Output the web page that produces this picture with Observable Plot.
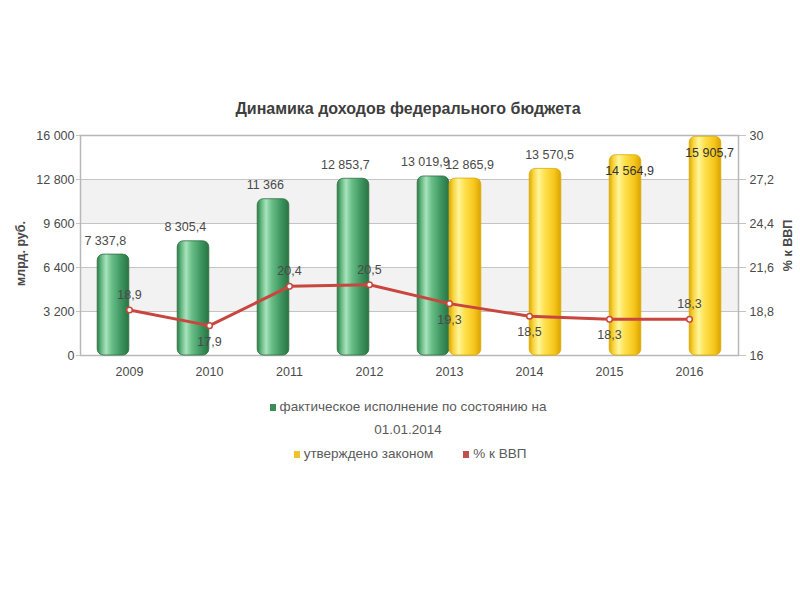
<!DOCTYPE html>
<html>
<head>
<meta charset="utf-8">
<script src="https://cdn.jsdelivr.net/npm/d3@7"></script>
<script src="https://cdn.jsdelivr.net/npm/@observablehq/plot@0.6"></script>
<style>
  body { margin: 0; background: #fff; font-family: "Liberation Sans", Arial, sans-serif; }
  #wrap { position: relative; width: 800px; height: 600px; overflow: hidden; }
  #title { position: absolute; top: 100px; left: 0; width: 816px; text-align: center;
           font-weight: bold; font-size: 16px; color: #3e3e3e; }
  #chart { position: absolute; top: 0; left: 0; }
  .leg { position: absolute; left: 0; width: 816px; text-align: center; font-size: 13.5px; color: #5a5a5a; }
  .sw { display: inline-block; width: 6px; height: 7px; margin-right: 4px; vertical-align: 0px; }
</style>
</head>
<body>
<div id="wrap">
  <div id="title">Динамика доходов федерального бюджета</div>
  <div id="chart"></div>
  <div class="leg" style="top:399px"><span class="sw" style="background:#3c8c55"></span>фактическое исполнение по состоянию на</div>
  <div class="leg" style="top:422px">01.01.2014</div>
  <div class="leg" style="top:446px;left:2px"><span class="sw" style="background:#f2c12e"></span>утверждено законом<span style="display:inline-block;width:30px"></span><span class="sw" style="background:#c0504d"></span>% к ВВП</div>
</div>
<script>
// ---- data ----
const years = ["2009", "2010", "2011", "2012", "2013", "2014", "2015", "2016"];
const actual = [7337.8, 8305.4, 11366, 12853.7, 13019.9, null, null, null];      // фактическое исполнение
const approved = [null, null, null, null, 12865.9, 13570.5, 14564.9, 15905.7];   // утверждено законом
const pctGDP = [18.9, 17.9, 20.4, 20.5, 19.3, 18.5, 18.3, 18.3];                 // % к ВВП
const leftTicks = [0, 3200, 6400, 9600, 12800, 16000];
const rightDomain = [16, 30];
const leftDomain = [0, 16000];

// ---- helpers ----
const ru = d3.formatLocale({decimal: ",", thousands: "\u00a0", grouping: [3], currency: ["", ""]});
const fmtVal = ru.format(",.1~f");
const fmtTick = ru.format(",~f");
const fmtPct = ru.format(".1~f");
const pctToLeft = p => (p - rightDomain[0]) / (rightDomain[1] - rightDomain[0]) * (leftDomain[1] - leftDomain[0]) + leftDomain[0];
const leftToPct = v => rightDomain[0] + (v - leftDomain[0]) / (leftDomain[1] - leftDomain[0]) * (rightDomain[1] - rightDomain[0]);

const actualData = years.map((y, i) => ({year: y, value: actual[i]})).filter(d => d.value != null);
const approvedData = years.map((y, i) => ({year: y, value: approved[i]})).filter(d => d.value != null);
const pctData = years.map((y, i) => ({year: y, pct: pctGDP[i], v: pctToLeft(pctGDP[i])}));
const bands = leftTicks.slice(0, -1).map((t, i) => ({y1: t, y2: leftTicks[i + 1], odd: i % 2 === 1})).filter(d => d.odd);

const W = 800, H = 400;
const mL = 80, mR = 62;
const step = 80.4;
const halfStep = step / 2;
const barW = 32;

// which percentage labels sit below their point
const pctBelow = new Set(["2010", "2013", "2014", "2015"]);

const txt = "#4a4a4a";
const chart = Plot.plot({
  width: W,
  height: H,
  marginTop: 135,
  marginBottom: 45,
  marginLeft: mL,
  marginRight: mR,
  style: {fontFamily: "'Liberation Sans', Arial, sans-serif", fontSize: "12.5px", color: txt, background: "transparent"},
  x: {type: "band", domain: years, paddingInner: 0, paddingOuter: 0.092, label: null},
  y: {domain: leftDomain, label: null},
  marks: [
    Plot.rect(bands, {y1: "y1", y2: "y2", fill: "#f2f2f2"}),
    Plot.ruleY(leftTicks, {stroke: "#c4c4c4", strokeWidth: 1, insetRight: -8, insetLeft: -4}),
    Plot.frame({stroke: "#b8b8b8", strokeWidth: 1.5}),
    Plot.axisY({ticks: leftTicks, tickFormat: fmtTick, tickSize: 0, tickPadding: 6, fontSize: 12.5, fill: txt, label: null}),
    Plot.axisY({anchor: "right", ticks: leftTicks, tickFormat: d => fmtPct(leftToPct(d)), tickSize: 0, tickPadding: 11, fontSize: 12.5, fill: txt, label: null}),
    Plot.axisX({tickSize: 0, tickPadding: 12, fontSize: 12.5, fill: txt, label: null}),
    // bars
    Plot.barY(actualData, {x: "year", y: "value", fill: "url(#gGreen)", stroke: "#2f6f43", strokeWidth: 0.8,
      insetLeft: halfStep - barW, insetRight: halfStep, rx: 6}),
    Plot.barY(approvedData, {x: "year", y: "value", fill: "url(#gYellow)", stroke: "#d9ab00", strokeWidth: 0.8,
      insetLeft: halfStep, insetRight: halfStep - barW, rx: 6}),
    // bar value labels (above bar, or inside the top when the bar reaches the top of the frame)
    Plot.text(actualData, {x: "year", y: "value", text: d => fmtVal(d.value), dx: -halfStep + barW / 2, dy: -14, fill: txt, fontSize: 12.5}),
    Plot.text(approvedData.filter(d => d.value < 14000), {x: "year", y: "value", text: d => fmtVal(d.value), dx: barW / 2 + 4, dy: -14, fill: txt, fontSize: 12.5}),
    Plot.text(approvedData.filter(d => d.value >= 14000), {x: "year", y: "value", text: d => fmtVal(d.value), dx: barW / 2 + 4, dy: 16, fill: "#333", fontSize: 12.5}),
    // % of GDP line
    Plot.line(pctData, {x: "year", y: "v", stroke: "#c9463f", strokeWidth: 3}),
    Plot.dot(pctData, {x: "year", y: "v", r: 2.8, fill: "#fff", stroke: "#c9463f", strokeWidth: 1.5}),
    Plot.text(pctData.filter(d => !pctBelow.has(d.year)), {x: "year", y: "v", text: d => fmtPct(d.pct), dy: -15, fill: txt, fontSize: 12.5}),
    Plot.text(pctData.filter(d => pctBelow.has(d.year)), {x: "year", y: "v", text: d => fmtPct(d.pct), dy: 16, fill: txt, fontSize: 12.5}),
    // axis titles
    Plot.text([0], {frameAnchor: "left", text: () => "млрд. руб.", rotate: -90, textAnchor: "middle", dx: -60, dy: 8, fontWeight: "bold", fontSize: 12.5, fill: txt}),
    Plot.text([0], {frameAnchor: "right", text: () => "% к ВВП", rotate: -90, textAnchor: "middle", dx: 49, fontWeight: "bold", fontSize: 12.5, fill: txt})
  ]
});

// gradients for the cylindrical bars
const ns = "http://www.w3.org/2000/svg";
const defs = document.createElementNS(ns, "defs");
function grad(id, stops) {
  const g = document.createElementNS(ns, "linearGradient");
  g.setAttribute("id", id);
  g.setAttribute("x1", "0"); g.setAttribute("x2", "1"); g.setAttribute("y1", "0"); g.setAttribute("y2", "0");
  stops.forEach(([o, c]) => {
    const s = document.createElementNS(ns, "stop");
    s.setAttribute("offset", o); s.setAttribute("stop-color", c);
    g.appendChild(s);
  });
  defs.appendChild(g);
}
grad("gGreen", [["0", "#2f7a48"], ["0.12", "#5fb57d"], ["0.28", "#a9e3bd"], ["0.45", "#6cc08a"], ["0.75", "#3d9660"], ["1", "#2a7343"]]);
grad("gYellow", [["0", "#e0a800"], ["0.12", "#f7d23a"], ["0.3", "#fff59a"], ["0.5", "#ffe04a"], ["0.8", "#f5c51c"], ["1", "#dba300"]]);
chart.insertBefore(defs, chart.firstChild);

document.getElementById("chart").appendChild(chart);
</script>
</body>
</html>
